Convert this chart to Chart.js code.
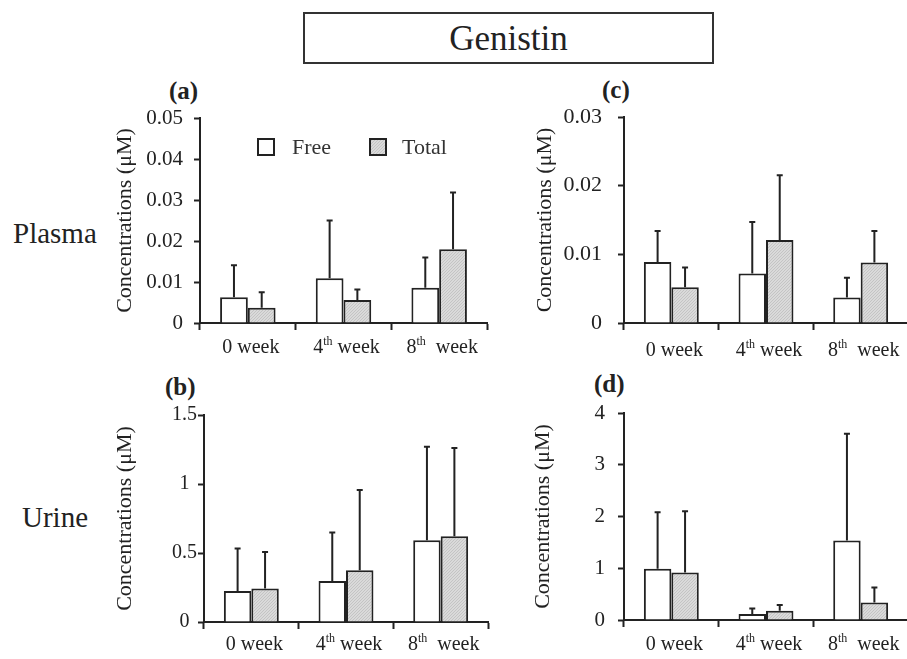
<!DOCTYPE html>
<html>
<head>
<meta charset="UTF-8">
<title>Genistin</title>
<style>
  body {
    margin: 0;
    width: 907px;
    height: 659px;
    overflow: hidden;
    position: relative;
    background: #fff;
    font-family: "Liberation Serif", serif;
    color: #222;
  }
  .title-box {
    position: absolute;
    left: 303px;
    top: 12px;
    width: 407px;
    height: 48px;
    border: 2px solid #333;
    text-align: center;
    font-size: 35px;
    line-height: 50px;
  }
  .row-label { position: absolute; font-size: 29px; line-height: 1; }
  .panel-label { position: absolute; font-size: 25px; font-weight: bold; line-height: 1; }
  .legend-text { position: absolute; font-size: 22px; line-height: 1; color: #333; }
  .swatch { position: absolute; width: 14px; height: 14px; border: 2px solid #222; box-sizing: content-box; }
  canvas { position: absolute; }
</style>
</head>
<body>

<div class="title-box">Genistin</div>

<div class="row-label" style="left:13px; top:219px;">Plasma</div>
<div class="row-label" style="left:22px; top:503px;">Urine</div>

<div class="panel-label" style="left:169px; top:78px;">(a)</div>
<div class="panel-label" style="left:602px; top:77px;">(c)</div>
<div class="panel-label" style="left:165px; top:374px;">(b)</div>
<div class="panel-label" style="left:594px; top:371px;">(d)</div>

<!-- top padding of each canvas also holds half of the top tick label plus its padding -->
<canvas id="chartA" width="391" height="276" style="left:100px; top:94px;"></canvas>
<canvas id="chartC" width="392" height="283" style="left:520px; top:87px;"></canvas>
<canvas id="chartB" width="392" height="264" style="left:100px; top:395px;"></canvas>
<canvas id="chartD" width="392" height="272" style="left:520px; top:387px;"></canvas>

<!-- legend sits inside panel (a) -->
<div class="swatch" style="left:257px; top:138px; background:#fff;"></div>
<div class="legend-text" style="left:292px; top:136px;">Free</div>
<div class="swatch" id="totalSwatch" style="left:369px; top:138px;"></div>
<div class="legend-text" style="left:402px; top:136px;">Total</div>

<script src="https://cdn.jsdelivr.net/npm/chart.js"></script>
<script>
    const weekLabels = ['0 week', '4th week', '8th  week'];

    // (a) plasma
    const freeA = [0.0063, 0.0109, 0.0086];
    const freeSdA = [0.0078, 0.0141, 0.0074];
    const totalA = [0.0037, 0.0056, 0.0180];
    const totalSdA = [0.0038, 0.0026, 0.0138];
    const yTicksA = [0, 0.01, 0.02, 0.03, 0.04, 0.05];

    // (b) urine
    const freeB = [0.225, 0.298, 0.593];
    const freeSdB = [0.308, 0.351, 0.677];
    const totalB = [0.242, 0.375, 0.622];
    const totalSdB = [0.266, 0.581, 0.638];
    const yTicksB = [0, 0.5, 1, 1.5];

    // (c) plasma
    const freeC = [0.0089, 0.0072, 0.0037];
    const freeSdC = [0.0045, 0.0075, 0.0029];
    const totalC = [0.0052, 0.0121, 0.0088];
    const totalSdC = [0.0029, 0.0094, 0.0046];
    const yTicksC = [0, 0.01, 0.02, 0.03];

    // (d) urine
    const freeD = [0.99, 0.116, 1.535];
    const freeSdD = [1.09, 0.104, 2.065];
    const totalD = [0.92, 0.18, 0.34];
    const totalSdD = [1.18, 0.11, 0.29];
    const yTicksD = [0, 1, 2, 3, 4];

    const SERIF = '"Liberation Serif", serif';
    const INK = '#222';

    Chart.defaults.font.family = SERIF;

    // light grey dotted fill for the "Total" bars
    function dottedFill() {
        const c = document.createElement('canvas');
        c.width = 3; c.height = 3;
        const g = c.getContext('2d');
        g.fillStyle = '#dadada';
        g.fillRect(0, 0, 3, 3);
        g.fillStyle = '#c4c4c4';
        g.fillRect(0, 0, 1, 1);
        g.fillRect(2, 1, 1, 1);
        g.fillRect(1, 2, 1, 1);
        return { pattern: g.createPattern(c, 'repeat'), url: c.toDataURL() };
    }
    const dotted = dottedFill();
    document.getElementById('totalSwatch').style.background = 'url(' + dotted.url + ')';

    // upward-only SD whiskers with a small cap
    const errorBars = {
        id: 'errorBars',
        afterDatasetsDraw(chart) {
            const { ctx, scales: { y } } = chart;
            ctx.save();
            ctx.strokeStyle = INK;
            ctx.lineWidth = 2;
            chart.data.datasets.forEach((ds, di) => {
                chart.getDatasetMeta(di).data.forEach((bar, i) => {
                    const top = y.getPixelForValue(ds.data[i] + ds.sd[i]);
                    ctx.beginPath();
                    ctx.moveTo(bar.x, bar.y);
                    ctx.lineTo(bar.x, top);
                    ctx.moveTo(bar.x - 3, top);
                    ctx.lineTo(bar.x + 3, top);
                    ctx.stroke();
                });
            });
            ctx.restore();
        }
    };

    // category labels with superscript ordinals ("4th week")
    const weekTicks = {
        id: 'weekTicks',
        afterDraw(chart, args, opts) {
            const { ctx, scales: { x }, chartArea } = chart;
            const size = opts.size || 20;
            const base = chartArea.bottom + opts.offset;
            ctx.save();
            ctx.fillStyle = INK;
            ctx.textBaseline = 'alphabetic';
            ctx.textAlign = 'left';
            chart.data.labels.forEach((label, i) => {
                const m = label.match(/^(\d+)(th)?(.*)$/);
                const parts = [
                    [m[1], size, 0],
                    [m[2] || '', Math.round(size * 0.62), -size * 0.38],
                    [m[3], size, 0]
                ];
                let w = 0;
                parts.forEach(p => {
                    ctx.font = p[1] + 'px ' + SERIF;
                    w += ctx.measureText(p[0]).width;
                });
                let cx = x.getPixelForValue(i) - w / 2 + 3;
                parts.forEach(p => {
                    ctx.font = p[1] + 'px ' + SERIF;
                    ctx.fillText(p[0], cx, base + p[2]);
                    cx += ctx.measureText(p[0]).width;
                });
            });
            ctx.restore();
        }
    };

    function makePanel(id, o) {
        const ctx = document.getElementById(id).getContext('2d');
        return new Chart(ctx, {
            type: 'bar',
            data: {
                labels: weekLabels,
                datasets: [{
                    label: 'Free',
                    data: o.free,
                    sd: o.freeSd,
                    backgroundColor: '#fff',
                    borderColor: INK,
                    borderWidth: 2,
                    categoryPercentage: 0.58,
                    barPercentage: 1
                }, {
                    label: 'Total',
                    data: o.total,
                    sd: o.totalSd,
                    backgroundColor: dotted.pattern,
                    borderColor: INK,
                    borderWidth: 2,
                    categoryPercentage: 0.58,
                    barPercentage: 1
                }]
            },
            options: {
                responsive: false,
                animation: false,
                events: [],
                layout: { padding: { top: o.padTop, right: 4, left: 0, bottom: 0 } },
                plugins: {
                    legend: { display: false },
                    tooltip: { enabled: false },
                    weekTicks: { offset: o.labelOffset, size: 20 }
                },
                scales: {
                    x: {
                        offset: true,
                        grid: { offset: true, drawOnChartArea: false, tickLength: 7, tickColor: INK, tickWidth: 2 },
                        border: { color: INK, width: 2 },
                        ticks: { display: false },
                        afterFit: s => { s.height = o.xHeight; }
                    },
                    y: {
                        min: o.ticks[0],
                        max: o.ticks[o.ticks.length - 1],
                        afterBuildTicks: s => { s.ticks = o.ticks.map(v => ({ value: v })); },
                        ticks: {
                            font: { family: SERIF, size: o.tickSize },
                            color: INK,
                            padding: o.tickPad,
                            crossAlign: o.align,
                            callback: v => String(v)
                        },
                        grid: { drawOnChartArea: false, tickLength: 6, tickColor: INK, tickWidth: 2 },
                        border: { color: INK, width: 2 },
                        title: {
                            display: true,
                            text: 'Concentrations (μM)',
                            font: { family: SERIF, size: 22 },
                            color: INK,
                            padding: { top: o.titlePad, bottom: 0 }
                        },
                        afterFit: s => { s.width = o.axisWidth; }
                    }
                }
            },
            plugins: [errorBars, weekTicks]
        });
    }

    makePanel('chartA', {
        free: freeA, freeSd: freeSdA, total: totalA, totalSd: totalSdA, ticks: yTicksA,
        padTop: 24, xHeight: 47, axisWidth: 100, tickPad: 11, align: 'near', tickSize: 21,
        titlePad: 12, labelOffset: 30
    });
    makePanel('chartB', {
        free: freeB, freeSd: freeSdB, total: totalB, totalSd: totalSdB, ticks: yTicksB,
        padTop: 20, xHeight: 37, axisWidth: 104, tickPad: 1, align: 'center', tickSize: 20,
        titlePad: 12, labelOffset: 28
    });
    makePanel('chartC', {
        free: freeC, freeSd: freeSdC, total: totalC, totalSd: totalSdC, ticks: yTicksC,
        padTop: 30, xHeight: 47, axisWidth: 104, tickPad: 16, align: 'near', tickSize: 22,
        titlePad: 12, labelOffset: 33
    });
    makePanel('chartD', {
        free: freeD, freeSd: freeSdD, total: totalD, totalSd: totalSdD, ticks: yTicksD,
        padTop: 26, xHeight: 39, axisWidth: 104, tickPad: 13, align: 'near', tickSize: 21,
        titlePad: 10, labelOffset: 30
    });
</script>

</body>
</html>
